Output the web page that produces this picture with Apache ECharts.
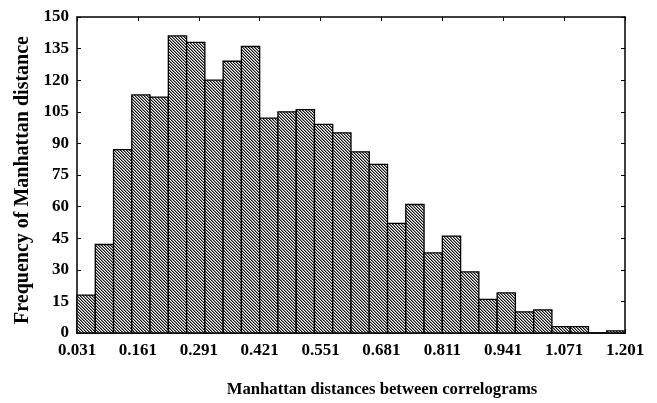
<!DOCTYPE html>
<html>
<head>
<meta charset="utf-8">
<script src="https://cdn.jsdelivr.net/npm/echarts@6/dist/echarts.min.js"></script>
<style>
html,body{margin:0;padding:0;background:#fff;}
#chart{width:657px;height:403px;}
</style>
</head>
<body>
<div id="chart"></div>
<script>
// ---- data ----
const binStart = 0.031;
const binWidth = 0.039;
const counts = [18, 42, 87, 113, 112, 141, 138, 120, 129, 136, 102, 105, 106, 99, 95, 86, 80, 52, 61, 38, 46, 29, 16, 19, 10, 11, 3, 3, 0, 1];
const xTickLabels = ['0.031', '0.161', '0.291', '0.421', '0.551', '0.681', '0.811', '0.941', '1.071', '1.201'];
const yTickLabels = ['0', '15', '30', '45', '60', '75', '90', '105', '120', '135', '150'];
const xTitle = 'Manhattan distances between correlograms';
const yTitle = 'Frequency of Manhattan distance';

// ---- derived ----
const xTickValues = xTickLabels.map(Number);
const yTickValues = yTickLabels.map(Number);
const binData = counts.map((c, i) => [binStart + i * binWidth, binStart + (i + 1) * binWidth, c]);

// hatch pattern (diagonal "\" stripes, period 3px)
const P = 12;
const pc = document.createElement('canvas');
pc.width = P; pc.height = P;
const ctx = pc.getContext('2d');
const shades = ['#111111', '#8a8a8a', '#ffffff'];
for (let y = 0; y < P; y++) {
  for (let x = 0; x < P; x++) {
    ctx.fillStyle = shades[((x - y) % 3 + 3) % 3];
    ctx.fillRect(x, y, 1, 1);
  }
}
const hatch = { image: pc, repeat: 'repeat' };

const font = 'Liberation Serif';
const chart = echarts.init(document.getElementById('chart'), null, { renderer: 'canvas' });
const xMin = xTickValues[0], xMax = xTickValues[xTickValues.length - 1];
const yMin = yTickValues[0], yMax = yTickValues[yTickValues.length - 1];

chart.setOption({
  animation: false,
  backgroundColor: '#fff',
  grid: { left: 77, right: 32, top: 17, bottom: 68, containLabel: false },
  xAxis: [{
    type: 'value', min: xMin, max: xMax, position: 'bottom',
    axisLine: { lineStyle: { color: '#000', width: 1.5 } },
    axisTick: { show: true, inside: true, length: 4, customValues: xTickValues, lineStyle: { color: '#000' } },
    axisLabel: { customValues: xTickValues, formatter: v => v.toFixed(3), color: '#000', fontFamily: font, fontWeight: 'bold', fontSize: 17, margin: 9 },
    splitLine: { show: false },
    name: xTitle, nameLocation: 'middle', nameGap: 48,
    nameTextStyle: { color: '#000', fontFamily: font, fontWeight: 'bold', fontSize: 16.7, padding: [0, 0, 0, 62] }
  }, {
    type: 'value', min: xMin, max: xMax, position: 'top',
    axisLine: { show: true, onZero: false, lineStyle: { color: '#000', width: 1.5 } },
    axisTick: { show: true, inside: true, length: 4, customValues: xTickValues, lineStyle: { color: '#000' } },
    axisLabel: { show: false }, splitLine: { show: false }
  }],
  yAxis: [{
    type: 'value', min: yMin, max: yMax, interval: 15, position: 'left',
    axisLine: { show: true, lineStyle: { color: '#000', width: 1.5 } },
    axisTick: { show: true, inside: true, length: 4, lineStyle: { color: '#000' } },
    axisLabel: { formatter: v => String(v), color: '#000', fontFamily: font, fontWeight: 'bold', fontSize: 17, margin: 8 },
    splitLine: { show: false },
    name: yTitle, nameLocation: 'middle', nameGap: 40, nameRotate: 90,
    nameTextStyle: { color: '#000', fontFamily: font, fontWeight: 'bold', fontSize: 20, padding: [0, 10, 0, 0] }
  }, {
    type: 'value', min: yMin, max: yMax, interval: 15, position: 'right',
    axisLine: { show: true, onZero: false, lineStyle: { color: '#000', width: 1.5 } },
    axisTick: { show: true, inside: true, length: 4, lineStyle: { color: '#000' } },
    axisLabel: { show: false }, splitLine: { show: false }
  }],
  series: [{
    type: 'custom',
    xAxisIndex: 0, yAxisIndex: 0,
    encode: { x: [0, 1], y: 2 },
    data: binData,
    renderItem: function (params, api) {
      const p0 = api.coord([api.value(0), 0]);
      const p1 = api.coord([api.value(1), api.value(2)]);
      return {
        type: 'rect',
        shape: { x: p0[0], y: p1[1], width: p1[0] - p0[0], height: p0[1] - p1[1] },
        style: { fill: hatch, stroke: '#000', lineWidth: 1.3 }
      };
    }
  }]
});
</script>
</body>
</html>
